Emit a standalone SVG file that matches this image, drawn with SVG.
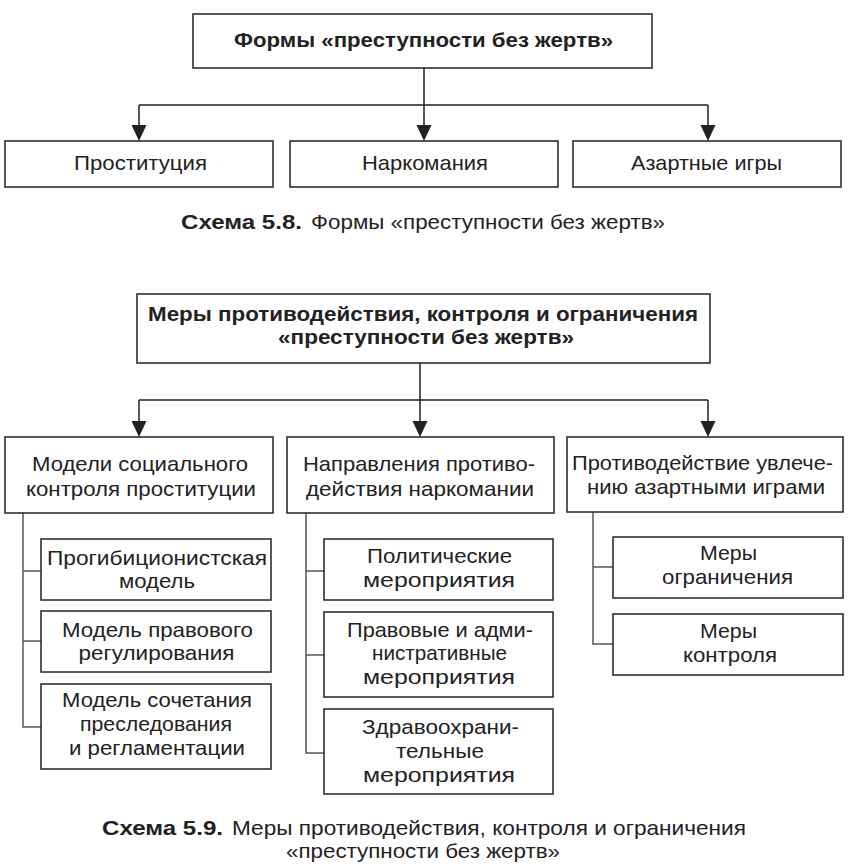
<svg xmlns="http://www.w3.org/2000/svg" xmlns:xlink="http://www.w3.org/1999/xlink" width="851" height="867" viewBox="0 0 851 867">
<style>
  text { font-family: "Liberation Sans", Arial, sans-serif; fill: #222; font-size: 21px; }
  .b { font-weight: bold; }
  .c { text-anchor: middle; }
  .box { fill: #fff; stroke: #222; stroke-width: 1.5; }
  .ln { fill: none; stroke: #222; stroke-width: 1.5; }
  .sub { fill: none; stroke: #555; stroke-width: 1.5; }
  .arr { fill: #222; }
</style>
<defs>
  <polygon id="ah" points="-7.5,-16 7.5,-16 0,0" class="arr"/>
</defs>
<rect width="851" height="867" fill="#fff"/>

<g id="connectors">
  <path class="ln" d="M424,68 V105 M139,105 H708 M139,105 V126 M424,105 V126 M708,105 V126"/>
  <use xlink:href="#ah" x="139" y="141"/>
  <use xlink:href="#ah" x="424" y="141"/>
  <use xlink:href="#ah" x="708" y="141"/>
  <path class="ln" d="M420,363 V400 M139,400 H708 M139,400 V422 M420,400 V422 M708,400 V422"/>
  <use xlink:href="#ah" x="139" y="437"/>
  <use xlink:href="#ah" x="420" y="437"/>
  <use xlink:href="#ah" x="708" y="437"/>
  <path class="sub" d="M23,513 V727 H41 M23,571 H41 M23,641 H41"/>
  <path class="sub" d="M306,513 V753 H324 M306,571 H324 M306,655 H324"/>
  <path class="sub" d="M593,512 V644 H613 M593,567 H613"/>
</g>

<g id="n_forms">
  <rect class="box" x="193" y="14" width="459" height="54"/>
  <text class="b c" x="423.5" y="47" textLength="379" lengthAdjust="spacingAndGlyphs">Формы «преступности без жертв»</text>
</g>
<g id="n_prost">
  <rect class="box" x="5" y="141" width="268" height="46"/>
  <text class="c" x="140.5" y="170" textLength="133" lengthAdjust="spacingAndGlyphs">Проституция</text>
</g>
<g id="n_narko">
  <rect class="box" x="290" y="141" width="268" height="46"/>
  <text class="c" x="425" y="170" textLength="126" lengthAdjust="spacingAndGlyphs">Наркомания</text>
</g>
<g id="n_azart">
  <rect class="box" x="573" y="141" width="268" height="46"/>
  <text class="c" x="706.5" y="170" textLength="151" lengthAdjust="spacingAndGlyphs">Азартные игры</text>
</g>
<g id="caption58">
  <text class="b" x="181" y="229" textLength="121" lengthAdjust="spacingAndGlyphs">Схема 5.8.</text>
  <text x="311" y="229" textLength="354" lengthAdjust="spacingAndGlyphs">Формы «преступности без жертв»</text>
</g>

<g id="n_measures">
  <rect class="box" x="137" y="294" width="573" height="69"/>
  <text class="b c" x="423" y="321" textLength="550" lengthAdjust="spacingAndGlyphs">Меры противодействия, контроля и ограничения</text>
  <text class="b c" x="426" y="344" textLength="296" lengthAdjust="spacingAndGlyphs">«преступности без жертв»</text>
</g>
<g id="n_models">
  <rect class="box" x="5" y="437" width="268" height="76"/>
  <text class="c" x="140" y="471" textLength="216" lengthAdjust="spacingAndGlyphs">Модели социального</text>
  <text class="c" x="141" y="496" textLength="230" lengthAdjust="spacingAndGlyphs">контроля проституции</text>
</g>
<g id="n_directions">
  <rect class="box" x="287" y="437" width="267" height="76"/>
  <text class="c" x="419" y="471" textLength="232" lengthAdjust="spacingAndGlyphs">Направления противо-</text>
  <text class="c" x="420" y="496" textLength="228" lengthAdjust="spacingAndGlyphs">действия наркомании</text>
</g>
<g id="n_counter">
  <rect class="box" x="567" y="437" width="276" height="75"/>
  <text class="c" x="702.5" y="470" textLength="261" lengthAdjust="spacingAndGlyphs">Противодействие увлече-</text>
  <text class="c" x="706" y="494" textLength="238" lengthAdjust="spacingAndGlyphs">нию азартными играми</text>
</g>

<g id="n_prohib">
  <rect class="box" x="41" y="539" width="230" height="61"/>
  <text class="c" x="157" y="565" textLength="220" lengthAdjust="spacingAndGlyphs">Прогибиционистская</text>
  <text class="c" x="157" y="588" textLength="76" lengthAdjust="spacingAndGlyphs">модель</text>
</g>
<g id="n_legal">
  <rect class="box" x="41" y="611" width="230" height="61"/>
  <text class="c" x="157.5" y="637" textLength="191" lengthAdjust="spacingAndGlyphs">Модель правового</text>
  <text class="c" x="156.5" y="660" textLength="156" lengthAdjust="spacingAndGlyphs">регулирования</text>
</g>
<g id="n_combo">
  <rect class="box" x="41" y="684" width="230" height="85"/>
  <text class="c" x="157" y="707" textLength="190" lengthAdjust="spacingAndGlyphs">Модель сочетания</text>
  <text class="c" x="156" y="731" textLength="152" lengthAdjust="spacingAndGlyphs">преследования</text>
  <text class="c" x="157" y="755" textLength="176" lengthAdjust="spacingAndGlyphs">и регламентации</text>
</g>

<g id="n_political">
  <rect class="box" x="324" y="539" width="229" height="61"/>
  <text class="c" x="439.5" y="563" textLength="145" lengthAdjust="spacingAndGlyphs">Политические</text>
  <text class="c" x="439" y="587" textLength="152" lengthAdjust="spacingAndGlyphs">мероприятия</text>
</g>
<g id="n_admin">
  <rect class="box" x="324" y="612" width="229" height="85"/>
  <text class="c" x="440" y="637" textLength="186" lengthAdjust="spacingAndGlyphs">Правовые и адми-</text>
  <text class="c" x="439.5" y="660" textLength="135" lengthAdjust="spacingAndGlyphs">нистративные</text>
  <text class="c" x="439" y="684" textLength="152" lengthAdjust="spacingAndGlyphs">мероприятия</text>
</g>
<g id="n_health">
  <rect class="box" x="324" y="709" width="229" height="85"/>
  <text class="c" x="440.5" y="734" textLength="157" lengthAdjust="spacingAndGlyphs">Здравоохрани-</text>
  <text class="c" x="440" y="758" textLength="88" lengthAdjust="spacingAndGlyphs">тельные</text>
  <text class="c" x="439" y="782" textLength="152" lengthAdjust="spacingAndGlyphs">мероприятия</text>
</g>

<g id="n_restrict">
  <rect class="box" x="613" y="537" width="230" height="61"/>
  <text class="c" x="728.5" y="560" textLength="57" lengthAdjust="spacingAndGlyphs">Меры</text>
  <text class="c" x="727.5" y="584" textLength="131" lengthAdjust="spacingAndGlyphs">ограничения</text>
</g>
<g id="n_control">
  <rect class="box" x="613" y="614" width="230" height="61"/>
  <text class="c" x="728.5" y="638" textLength="57" lengthAdjust="spacingAndGlyphs">Меры</text>
  <text class="c" x="730" y="662" textLength="94" lengthAdjust="spacingAndGlyphs">контроля</text>
</g>

<g id="caption59">
  <text class="b" x="102" y="835" textLength="121" lengthAdjust="spacingAndGlyphs">Схема 5.9.</text>
  <text x="232" y="835" textLength="514" lengthAdjust="spacingAndGlyphs">Меры противодействия, контроля и ограничения</text>
  <text class="c" x="423" y="858" textLength="274" lengthAdjust="spacingAndGlyphs">«преступности без жертв»</text>
</g>
</svg>
